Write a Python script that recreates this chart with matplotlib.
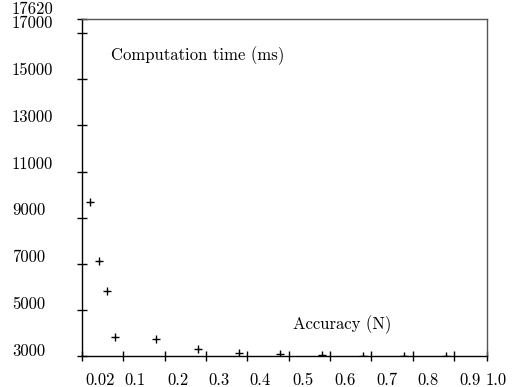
import matplotlib
matplotlib.use('Agg')
from matplotlib import pyplot as plt
from matplotlib import transforms

# data
accuracy = [0.04, 0.06, 0.08, 0.1, 0.2, 0.3, 0.4, 0.5, 0.6, 0.7, 0.8, 0.9]
comp_time = [9700, 7100, 5800, 3840, 3740, 3320, 3130, 3090, 3040, 3020, 3010, 3000]

x_ticks = [0.02, 0.12, 0.22, 0.32, 0.42, 0.52, 0.62, 0.72, 0.82, 0.92, 1.0]
x_labels = ['0.02', '0.1', '0.2', '0.3', '0.4', '0.5', '0.6', '0.7', '0.8', '0.9', '1.0']
y_ticks = [3000, 5000, 7000, 9000, 11000, 13000, 15000, 17000, 17620]
y_labels = ['3000', '5000', '7000', '9000', '11000', '13000', '15000', '17000', '17620']

plt.rcParams['font.family'] = ['cmr10', 'DejaVu Serif']
fs = 12

fig = plt.figure(figsize=(5.16, 3.87), dpi=100)
ax = fig.add_axes([82 / 516, 31 / 387, 405 / 516, 337 / 387])

ax.plot(accuracy, comp_time, linestyle='none', marker='+', color='black',
        markersize=6, markeredgewidth=1.0)

ax.set_xlim(0.02, 1.0)
ax.set_ylim(3000, 17620)

ax.spines['left'].set_color('black')
ax.spines['bottom'].set_color('black')
ax.spines['top'].set_color('#555555')
ax.spines['right'].set_color('#555555')
for s in ax.spines.values():
    s.set_linewidth(1.0)

ax.set_xticks(x_ticks)
ax.set_yticks(y_ticks)
ax.tick_params(direction='inout', length=7, width=1, colors='black',
               labelbottom=False, labelleft=False)

# tick labels sit a little off their tick marks, as in the reference
xoffs = [18, 12, 13, 13, 13, 14, 15, 16, 15, 16, 9]
for v, lab, dx in zip(x_ticks, x_labels, xoffs):
    tr = transforms.blended_transform_factory(ax.transData, ax.transAxes)
    tr = tr + transforms.ScaledTranslation(dx / 100, -24 / 100, fig.dpi_scale_trans)
    ax.text(v, 0, lab, transform=tr, ha='center', va='center', fontsize=fs)

for v, lab in zip(y_ticks, y_labels):
    dy = 5 + 5 * (v - 3000) / 14620
    tr = transforms.blended_transform_factory(fig.transFigure, ax.transData)
    tr = tr + transforms.ScaledTranslation(0, dy / 100, fig.dpi_scale_trans)
    ax.text(12 / 516, v, lab, transform=tr, ha='left', va='center', fontsize=fs)

ax.text(111 / 516, 1 - 56 / 387, 'Computation time (ms)', transform=fig.transFigure,
        ha='left', va='center', fontsize=fs)
ax.text(293 / 516, 1 - 325 / 387, 'Accuracy (N)', transform=fig.transFigure,
        ha='left', va='center', fontsize=fs)

fig.savefig('out.png', dpi=100)
